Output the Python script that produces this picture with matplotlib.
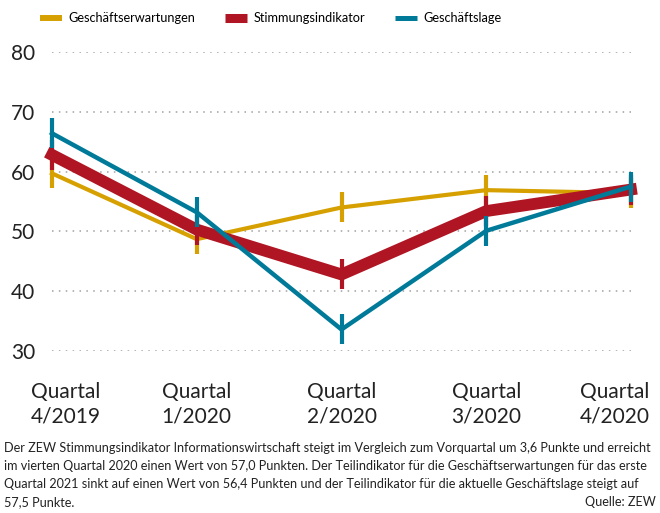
import matplotlib.pyplot as plt
from matplotlib.lines import Line2D
from matplotlib import font_manager

quartale = ['Quartal\n4/2019', 'Quartal\n1/2020', 'Quartal\n2/2020', 'Quartal\n3/2020', 'Quartal\n4/2020']
erwartungen = [59.7, 48.7, 54.0, 56.9, 56.4]
stimmung = [62.8, 50.3, 42.8, 53.4, 57.0]
lage = [66.4, 53.2, 33.6, 50.1, 57.5]
y_ticks = [30, 40, 50, 60, 70, 80]

GOLD = '#D6A100'
RED = '#B01523'
TEAL = '#007A99'

names = {f.name for f in font_manager.fontManager.ttflist}
main_font = 'Lato' if 'Lato' in names else 'DejaVu Sans'
plt.rcParams['font.family'] = [main_font, 'DejaVu Sans']

fig = plt.figure(figsize=(6.6, 5.13), dpi=100)
ax = fig.add_axes([52 / 660, 1 - 351 / 513, (631 - 52) / 660, (351 - 52) / 513])

x = list(range(len(quartale)))
series = [(erwartungen, GOLD, 3.0), (stimmung, RED, 8.5), (lage, TEAL, 3.2)]
for vals, col, lw in series:
    ax.plot(x, vals, color=col, lw=lw, marker='|', markersize=22, mew=3,
            solid_joinstyle='miter', clip_on=False)

ax.set_xlim(0, 4)
ax.set_ylim(30, 80)
for s in ax.spines.values():
    s.set_visible(False)
for t in y_ticks:
    ax.axhline(t, color='#a0a0a0', lw=1.1, ls=(0, (1, 3.5)), zorder=0)
ax.set_yticks(y_ticks)
ax.tick_params(axis='y', length=0, labelsize=15, pad=12, labelcolor='#222222')
ax.set_xticks([])

# x labels, first/last kept inside the figure
offsets = [10, 0, 0, 0, -11.5]
for i, lab in enumerate(quartale):
    ax.annotate(lab, (x[i], 30), xytext=(offsets[i], -22), textcoords='offset points',
                ha='center', va='top', fontsize=15, color='#222222',
                linespacing=1.3, annotation_clip=False)

handles = [Line2D([], [], color=GOLD, lw=4.3, solid_capstyle='butt'),
           Line2D([], [], color=RED, lw=6.5, solid_capstyle='butt'),
           Line2D([], [], color=TEAL, lw=3.6, solid_capstyle='butt')]
fig.legend(handles, ['Geschäftserwartungen', 'Stimmungsindikator', 'Geschäftslage'],
           loc='center left', bbox_to_anchor=(40 / 660, 1 - 18 / 513), ncol=3,
           frameon=False, borderpad=0, borderaxespad=0,
           fontsize=9.2, handlelength=1.7, columnspacing=2.3, handletextpad=0.55)

footer_lines = [
    'Der ZEW Stimmungsindikator Informationswirtschaft steigt im Vergleich zum Vorquartal um 3,6 Punkte und erreicht',
    'im vierten Quartal 2020 einen Wert von 57,0 Punkten. Der Teilindikator für die Geschäftserwartungen für das erste',
    'Quartal 2021 sinkt auf einen Wert von 56,4 Punkten und der Teilindikator für die aktuelle Geschäftslage steigt auf',
    '57,5 Punkte.',
]
for i, line in enumerate(footer_lines):
    fig.text(4 / 660, 1 - (452 + 18 * i) / 513, line, ha='left', va='baseline',
             fontsize=9.1, color='#222222')
fig.text(656 / 660, 1 - 506 / 513, 'Quelle: ZEW', ha='right', va='baseline',
         fontsize=9.1, color='#222222')

fig.savefig('out.png', dpi=100)
